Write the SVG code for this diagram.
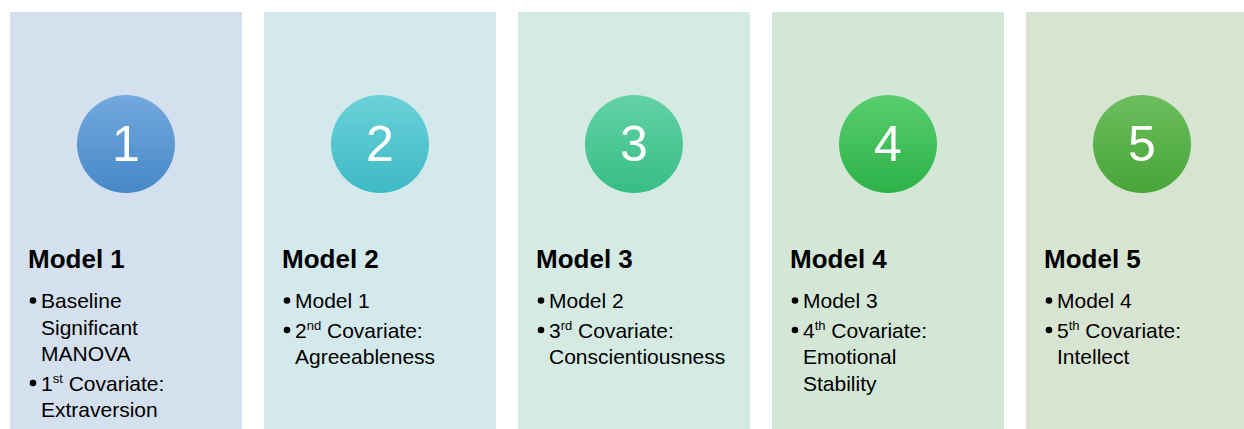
<svg xmlns="http://www.w3.org/2000/svg" width="1244" height="429" viewBox="0 0 1244 429">
  <defs>
    <linearGradient id="g1" x1="0" y1="0" x2="0" y2="1"><stop offset="0" stop-color="#72a9de"/><stop offset="1" stop-color="#4788c8"/></linearGradient>
    <linearGradient id="g2" x1="0" y1="0" x2="0" y2="1"><stop offset="0" stop-color="#6cd1d9"/><stop offset="1" stop-color="#3dbac5"/></linearGradient>
    <linearGradient id="g3" x1="0" y1="0" x2="0" y2="1"><stop offset="0" stop-color="#62d2a6"/><stop offset="1" stop-color="#38bd86"/></linearGradient>
    <linearGradient id="g4" x1="0" y1="0" x2="0" y2="1"><stop offset="0" stop-color="#58cd6e"/><stop offset="1" stop-color="#2db248"/></linearGradient>
    <linearGradient id="g5" x1="0" y1="0" x2="0" y2="1"><stop offset="0" stop-color="#6dbe5e"/><stop offset="1" stop-color="#48a538"/></linearGradient>
  </defs>
  <style>
    .panel { stroke: none; }
    .num { font-family: "Liberation Sans", Arial, sans-serif; font-size: 50px; fill: #ffffff; text-anchor: middle; }
    .title { font-family: "Liberation Sans", Arial, sans-serif; font-size: 26px; font-weight: bold; fill: #000000; }
    .item { font-family: "Liberation Sans", Arial, sans-serif; font-size: 21px; fill: #000000; }
    .dot { fill: #000000; }
    .sup { font-size: 13px; }
  </style>
  <rect width="1244" height="429" fill="#ffffff"/>

  <g id="model1">
    <rect class="panel" x="10" y="12" width="232" height="420" fill="#d5e0ee"/>
    <circle cx="126" cy="144" r="49" fill="url(#g1)"/>
    <text class="num" x="126" y="161">1</text>
    <text class="title" x="28" y="268">Model 1</text>
    <circle class="dot" cx="33" cy="300.5" r="3.3"/>
    <text class="item" x="41" y="308">Baseline</text>
    <text class="item" x="41" y="334.5">Significant</text>
    <text class="item" x="41" y="361">MANOVA</text>
    <circle class="dot" cx="33" cy="383" r="3.3"/>
    <text class="item" x="41" y="390.5">1<tspan class="sup" dy="-8">st</tspan><tspan dy="8"> Covariate:</tspan></text>
    <text class="item" x="41" y="417">Extraversion</text>
  </g>

  <g id="model2">
    <rect class="panel" x="264" y="12" width="232" height="420" fill="#d4e9ec"/>
    <circle cx="380" cy="144" r="49" fill="url(#g2)"/>
    <text class="num" x="380" y="161">2</text>
    <text class="title" x="282" y="268">Model 2</text>
    <circle class="dot" cx="287" cy="300.5" r="3.3"/>
    <text class="item" x="295" y="308">Model 1</text>
    <circle class="dot" cx="287" cy="330" r="3.3"/>
    <text class="item" x="295" y="337.5">2<tspan class="sup" dy="-8">nd</tspan><tspan dy="8"> Covariate:</tspan></text>
    <text class="item" x="295" y="364">Agreeableness</text>
  </g>

  <g id="model3">
    <rect class="panel" x="518" y="12" width="232" height="420" fill="#d4eae3"/>
    <circle cx="634" cy="144" r="49" fill="url(#g3)"/>
    <text class="num" x="634" y="161">3</text>
    <text class="title" x="536" y="268">Model 3</text>
    <circle class="dot" cx="541" cy="300.5" r="3.3"/>
    <text class="item" x="549" y="308">Model 2</text>
    <circle class="dot" cx="541" cy="330" r="3.3"/>
    <text class="item" x="549" y="337.5">3<tspan class="sup" dy="-8">rd</tspan><tspan dy="8"> Covariate:</tspan></text>
    <text class="item" x="549" y="364">Conscientiousness</text>
  </g>

  <g id="model4">
    <rect class="panel" x="772" y="12" width="232" height="420" fill="#d4e7d7"/>
    <circle cx="888" cy="144" r="49" fill="url(#g4)"/>
    <text class="num" x="888" y="161">4</text>
    <text class="title" x="790" y="268">Model 4</text>
    <circle class="dot" cx="795" cy="300.5" r="3.3"/>
    <text class="item" x="803" y="308">Model 3</text>
    <circle class="dot" cx="795" cy="330" r="3.3"/>
    <text class="item" x="803" y="337.5">4<tspan class="sup" dy="-8">th</tspan><tspan dy="8"> Covariate:</tspan></text>
    <text class="item" x="803" y="364">Emotional</text>
    <text class="item" x="803" y="390.5">Stability</text>
  </g>

  <g id="model5">
    <rect class="panel" x="1026" y="12" width="232" height="420" fill="#d8e4d2"/>
    <circle cx="1142" cy="144" r="49" fill="url(#g5)"/>
    <text class="num" x="1142" y="161">5</text>
    <text class="title" x="1044" y="268">Model 5</text>
    <circle class="dot" cx="1049" cy="300.5" r="3.3"/>
    <text class="item" x="1057" y="308">Model 4</text>
    <circle class="dot" cx="1049" cy="330" r="3.3"/>
    <text class="item" x="1057" y="337.5">5<tspan class="sup" dy="-8">th</tspan><tspan dy="8"> Covariate:</tspan></text>
    <text class="item" x="1057" y="364">Intellect</text>
  </g>
</svg>
